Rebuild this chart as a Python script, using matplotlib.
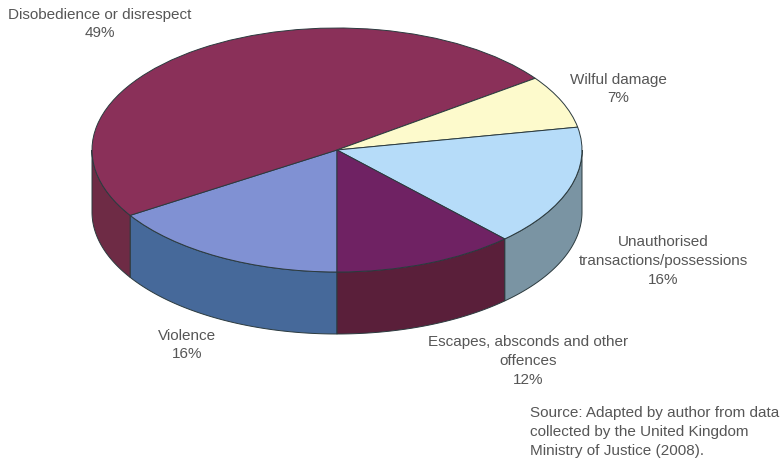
import numpy as np
import matplotlib
matplotlib.use("Agg")
import matplotlib.pyplot as plt
from matplotlib.patches import Polygon

# Share of offences by type, clockwise from the front of the pie
categories = ["Violence", "Disobedience or disrespect", "Wilful damage",
              "Unauthorised\ntransactions/possessions",
              "Escapes, absconds and other\noffences"]
shares = [16, 49, 7, 16, 12]
top_colors = ["#8091d3", "#8a3059", "#fdfacc", "#b6dcf9", "#6f2263"]
side_colors = ["#46699a", "#6e2b45", "#c9c8a0", "#7a94a3", "#5a1f3a"]

W, H = 782, 469
CX, CY, RX, RY, DEPTH = 337, 150, 245, 122, 62
EDGE = "#2b3a3e"
TEXT = "#565656"

plt.rcParams["font.family"] = ["Liberation Sans", "DejaVu Sans"]
fig = plt.figure(figsize=(W / 100, H / 100), dpi=100)
ax = fig.add_axes([0, 0, 1, 1])

start = 270.0
depth = DEPTH / RY
bounds = start - np.cumsum([0] + shares) * 3.6


def side_wall(a0, a1, color):
    """Rim of the pie between two angles, clipped to the front half."""
    lo, hi = min(a0, a1), max(a0, a1)
    # Bring the span into the 180-360 band where the rim faces the viewer
    if lo < 0:
        lo, hi = lo + 360, hi + 360
    lo, hi = max(lo, 180), min(hi, 360)
    if hi <= lo:
        return
    t = np.radians(np.linspace(lo, hi, 80))
    x, y = np.cos(t), np.sin(t)
    pts = np.vstack([np.column_stack([x, y]),
                     np.column_stack([x[::-1], y[::-1] - depth])])
    ax.add_patch(Polygon(pts, closed=True, facecolor=color, edgecolor=EDGE,
                         linewidth=0.7, zorder=1))


for i, color in enumerate(side_colors):
    side_wall(bounds[i + 1], bounds[i], color)

ax.pie(shares, colors=top_colors, startangle=start, counterclock=False,
       radius=1, center=(0, 0), frame=True,
       wedgeprops=dict(edgecolor=EDGE, linewidth=0.7, zorder=2))
ax.set_aspect("auto")
ax.set_xlim(-CX / RX, (W - CX) / RX)
ax.set_ylim((CY - H) / RY, CY / RY)
ax.axis("off")


def label(text, x, y, ha="center"):
    fig.text(x / W, 1 - y / H, text, ha=ha, va="center", color=TEXT,
             fontsize=11, linespacing=1.42)


label(f"{categories[1]}\n{shares[1]}%", 100, 24)
label(f"{categories[2]}\n{shares[2]}%", 618, 89)
label(f"{categories[3]}\n{shares[3]}%", 663, 261)
label(f"{categories[4]}\n{shares[4]}%", 528, 361)
label(f"{categories[0]}\n{shares[0]}%", 187, 345)
label("Source: Adapted by author from data\ncollected by the United Kingdom\nMinistry of Justice (2008).",
      530, 432, ha="left")

fig.savefig("out.png", dpi=100)
